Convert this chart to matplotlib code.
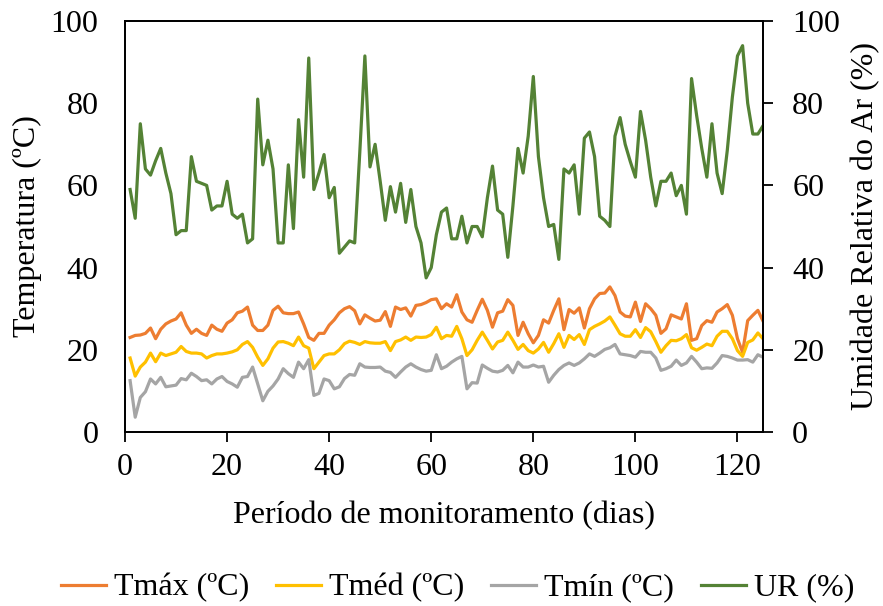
import numpy as np
import matplotlib
matplotlib.use("Agg")
import matplotlib.pyplot as plt

plt.rcParams['font.family'] = ['Liberation Serif', 'DejaVu Serif']

days = list(range(1, 126))

tmax = [23, 23.5, 23.6, 24, 25.3, 22.7, 25, 26.3, 27, 27.5,
        29, 26, 24, 25, 24, 23.5, 26, 25, 24.5, 26.5,
        27.3, 29, 29.4, 30.4, 26, 24.7, 24.7, 26, 29.6, 30.6,
        29, 28.8, 28.8, 29.2, 26.3, 23, 22.3, 24, 24, 26,
        27.3, 29, 30, 30.5, 29.5, 26.3, 28.5, 27.7, 27, 27.2,
        29.3, 25.7, 30.4, 29.8, 30.2, 28.2, 30.8, 31, 31.5, 32.2,
        32.4, 30, 31.2, 30.4, 33.4, 29.2, 27.3, 26.7, 29.6, 32.3,
        29.6, 25.5, 29, 29.4, 32.2, 30.8, 23.5, 26.7, 23.9, 21.7,
        23.5, 27.3, 26.5, 29.6, 32.4, 24.9, 29.8, 28.9, 30.2, 25.3,
        30, 32.4, 33.7, 33.8, 35.3, 33.2, 29.2, 28.2, 28, 31.6,
        26.9, 31.2, 30, 28.4, 24, 25.1, 28.5, 28, 27.5, 31.2,
        22.3, 22.7, 25.9, 27.1, 26.7, 29.2, 30, 31, 28.4, 22.7,
        19.4, 27.1, 28.4, 29.6, 27]

tmed = [18, 13.6, 15.8, 17, 19.2, 17.1, 19.2, 18.6, 19, 19.4,
        20.8, 19.6, 19.2, 19.2, 19, 18, 18.6, 19, 19, 19.2,
        19.5, 20, 21.3, 22, 20.6, 18.2, 16.2, 17.8, 20.4, 21.9,
        22, 21.6, 21, 23.1, 21, 20.4, 15.4, 17, 18.6, 19,
        19, 20, 21.5, 22.1, 21.8, 21.3, 22, 21.7, 21.6, 21.6,
        22, 19.8, 22, 22.4, 23.1, 22.3, 23.1, 23, 23.1, 23.7,
        25.5, 22.7, 23.5, 23.3, 25.7, 22.7, 18.6, 20, 22.3, 24.3,
        22.3, 20.2, 21.9, 22.3, 24.3, 22.3, 20.1, 21.3, 19.8, 19.2,
        20.2, 21.8, 19.4, 21.5, 23.9, 20.6, 23.5, 22.5, 23.7, 21.3,
        24.9, 25.7, 26.3, 27, 28, 26, 23.9, 23.3, 23.3, 24.9,
        23, 25.4, 24.4, 22, 19.4, 21, 22.3, 22.2, 22.7, 23.7,
        20.5, 19.9, 20.6, 21.4, 21, 23.3, 24.5, 24.5, 22.7, 19.8,
        18.4, 21.8, 22.4, 24.1, 22.7]

tmin = [12.5, 3.6, 8.4, 9.8, 12.9, 11.7, 13.3, 11, 11.2, 11.4,
        13, 12.7, 14.3, 13.5, 12.5, 12.7, 11.7, 12.9, 13.5, 12.3,
        11.7, 10.9, 13.3, 13.5, 15.8, 11.7, 7.6, 9.9, 11.2, 12.9,
        15.4, 14.2, 13.3, 17, 15.4, 17.6, 8.9, 9.4, 12.9, 12.5,
        10.5, 11, 13, 14, 13.8, 16.6, 15.8, 15.7, 15.7, 15.8,
        14.8, 14.5, 13.3, 14.6, 15.8, 16.6, 15.8, 15.2, 14.8, 15,
        18.8, 15.4, 16, 17, 17.8, 18.4, 10.5, 12, 11.9, 16.3,
        15.5, 14.8, 14.6, 15, 16.2, 14.4, 17, 15.8, 15.8, 16.3,
        15.8, 16, 12.1, 13.8, 15.2, 16.2, 16.8, 16.2, 16.8, 17.8,
        19, 18.4, 19.2, 20.1, 20.5, 21.3, 19, 18.8, 18.6, 18.2,
        19.6, 19.4, 19.4, 18, 15, 15.4, 16, 17.5, 16.2, 16.8,
        18.4, 17, 15.4, 15.6, 15.5, 16.8, 18.6, 18.4, 18, 17.5,
        17.5, 17.6, 17, 18.8, 18.2]

ur = [59, 52, 75, 64, 62.5, 66, 69, 63, 58, 48,
      49, 49, 67, 61, 60.5, 60, 54, 55, 55, 61,
      53, 52, 53, 46, 47, 81, 65, 71, 64, 46,
      46, 65, 49.5, 76, 62, 91, 59, 63, 67.5, 57,
      59.5, 43.5, 45, 46.5, 46, 68, 91.5, 64.5, 70, 61,
      51.5, 59.7, 53.5, 60.5, 51, 59, 50, 46, 37.5, 40,
      48, 53.5, 54.5, 47, 47, 52.5, 46, 50, 50, 47.5,
      57, 64.7, 54, 53, 42.5, 55, 69, 63, 72, 86.5,
      67, 57, 50, 50.5, 42, 64, 63, 65, 53, 71.5,
      73, 67, 52.5, 51.5, 50, 72, 76.5, 70, 65.8, 62,
      78, 71, 62, 55, 61, 61, 63, 57.5, 60, 53,
      86, 77, 69, 62, 75, 63, 58, 68.5, 81.5, 91.5,
      94, 80, 72.5, 72.5, 74.5]

fs = 23
fig = plt.figure(figsize=(8.83, 6.06), dpi=100)
ax = fig.add_axes([125 / 883, 1 - 432 / 606, 638 / 883, 411 / 606])
ax2 = ax.twinx()

lw = 2.3
h1, = ax.plot(days, tmax, color='#ED7D31', lw=lw, label='Tmáx (ºC)', solid_joinstyle='round')
h2, = ax.plot(days, tmed, color='#FFC000', lw=lw, label='Tméd (ºC)', solid_joinstyle='round')
h3, = ax.plot(days, tmin, color='#A5A5A5', lw=lw, label='Tmín (ºC)', solid_joinstyle='round')
h4, = ax2.plot(days, ur, color='#548235', lw=lw, label='UR (%)', solid_joinstyle='round')

ax.set_xlim(0, 125)
ax.set_ylim(0, 100)
ax2.set_ylim(0, 100)
ax.set_xticks(range(0, 121, 20))
ax.set_yticks(range(0, 101, 20))
ax2.set_yticks(range(0, 101, 20))

for a in (ax, ax2):
    for s in a.spines.values():
        s.set_color('black')
        s.set_linewidth(1.3)

ax.tick_params(axis='x', direction='out', length=7, width=1.3, pad=8, labelsize=fs)
ax.tick_params(axis='y', length=0, pad=19, labelsize=fs)
ax2.tick_params(axis='y', direction='out', length=7, width=1.3, pad=14, labelsize=fs)

ax.set_xlabel('Período de monitoramento (dias)', fontsize=fs, labelpad=14)
ax.set_ylabel('Temperatura (ºC)', fontsize=fs, labelpad=6)
ax2.set_ylabel('Umidade Relativa do Ar (%)', fontsize=fs, labelpad=8)

fig.legend(handles=[h1, h2, h3, h4], loc='center', bbox_to_anchor=(0.518, 1 - 588 / 606),
           ncol=4, frameon=False, fontsize=fs, handlelength=1.4, handletextpad=0.25,
           columnspacing=0.85)

fig.savefig('out.png', dpi=100)
